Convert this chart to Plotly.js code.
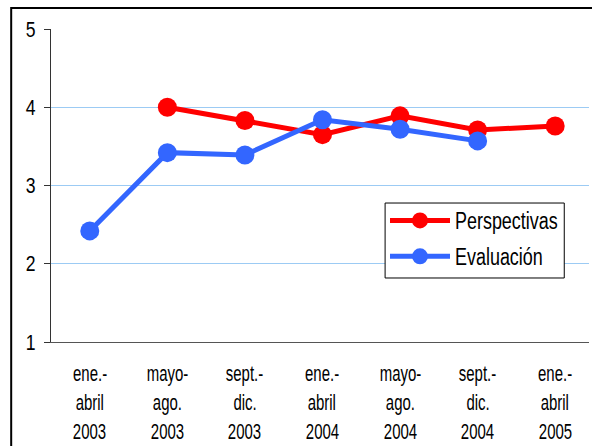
<!DOCTYPE html>
<html>
<head>
<meta charset="utf-8">
<script src="https://cdn.plot.ly/plotly-3.0.1.min.js"></script>
<style>
  html, body { margin: 0; padding: 0; background: #fff; }
  #chart { width: 592px; height: 446px; }
</style>
</head>
<body>
<div id="chart"></div>
<script>
// periods, one entry per category, lines of the tick label split by '|'
const periods = [
    'ene.-|abril|2003', 'mayo-|ago.|2003', 'sept.-|dic.|2003',
    'ene.-|abril|2004', 'mayo-|ago.|2004', 'sept.-|dic.|2004',
    'ene.-|abril|2005'
];
const perspectivas = [null, 4.00, 3.83, 3.65, 3.89, 3.71, 3.76];
const evaluacion = [2.42, 3.42, 3.39, 3.84, 3.72, 3.57, null];
const yTicks = [1, 2, 3, 4, 5];

const sans = '"Liberation Sans", Arial, sans-serif';

// three-line category labels, one annotation per line so the spacing can be set
const labelShifts = [-31, -60, -89];
const labelNotes = [];
periods.forEach(p => {
    p.split('|').forEach((line, j) => {
        labelNotes.push({
            x: p, y: 0, xref: 'x', yref: 'paper',
            text: line, showarrow: false,
            xanchor: 'center', yanchor: 'middle', yshift: labelShifts[j],
            font: { family: sans, size: 22, color: '#000' }
        });
    });
});

const traces = [
    {
        type: 'scatter', mode: 'lines+markers', name: 'Perspectivas',
        x: periods, y: perspectivas, legendgroup: 'a',
        line: { color: '#ff0000', width: 5 },
        marker: { color: '#ff0000', size: 19 }
    },
    {
        type: 'scatter', mode: 'lines+markers', name: 'Evaluación',
        x: periods, y: evaluacion, legendgroup: 'b',
        line: { color: '#3366ff', width: 5 },
        marker: { color: '#3366ff', size: 19 }
    }
];

const layout = {
    width: 592, height: 446,
    margin: { l: 51, r: 0, t: 29, b: 104 },
    paper_bgcolor: '#fff', plot_bgcolor: '#fff',
    showlegend: true,
    legend: {
        x: 0.621, y: 0.457, xanchor: 'left', yanchor: 'top',
        bgcolor: 'rgba(0,0,0,0)', borderwidth: 0,
        font: { family: sans, size: 23, color: '#000' },
        tracegroupgap: 3, itemwidth: 60
    },
    xaxis: {
        type: 'category', range: [-0.5, 6.436],
        showticklabels: false, ticks: '',
        showgrid: false, zeroline: false,
        showline: true, linecolor: '#555', linewidth: 1
    },
    yaxis: {
        range: [1, 5], tickvals: yTicks,
        ticks: 'outside', ticklen: 6, tickcolor: '#333', tickwidth: 1,
        ticklabelstandoff: 4,
        tickfont: { family: sans, size: 22, color: '#000' },
        showgrid: true, gridcolor: '#9ccbf4', gridwidth: 1,
        zeroline: false,
        showline: true, linecolor: '#333', linewidth: 1
    },
    shapes: [
        {
            type: 'rect', xref: 'paper', yref: 'paper',
            x0: -0.074, x1: 1.2, y0: -0.5, y1: 1.067,
            line: { color: '#000', width: 2 }, layer: 'below'
        },
        {   // legend frame
            type: 'rect', xref: 'paper', yref: 'paper',
            x0: 0.621, x1: 0.954, y0: 0.2045, y1: 0.444,
            fillcolor: '#fff', line: { color: '#000', width: 1 }, layer: 'above'
        }
    ],
    annotations: labelNotes
};

// the reference uses a narrow face, so squeeze the glyphs horizontally
function squeeze(selector, k) {
    document.querySelectorAll(selector).forEach(t => {
        const w = t.getComputedTextLength();
        t.setAttribute('textLength', (w * k).toFixed(1));
        t.setAttribute('lengthAdjust', 'spacingAndGlyphs');
    });
}

Plotly.newPlot('chart', traces, layout, { displayModeBar: false, staticPlot: true }).then(() => {
    squeeze('#chart .annotation-text', 0.68);
    squeeze('#chart .legendtext', 0.78);
    squeeze('#chart .ytick text', 0.8);
});
</script>
</body>
</html>
